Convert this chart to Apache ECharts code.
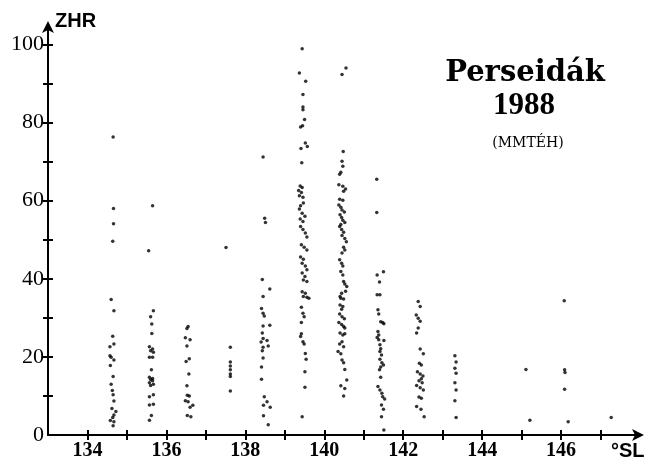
<!DOCTYPE html>
<html>
<head>
<meta charset="utf-8">
<script src="https://cdn.jsdelivr.net/npm/echarts@6/dist/echarts.min.js"></script>
<style>
html,body{margin:0;padding:0;background:#fff;}
#chart{width:657px;height:464px;}
</style>
</head>
<body>
<div id="chart"></div>
<script>
// ---- data: solar longitude (°SL) vs ZHR, grouped by observing night ----
const night1346 = [[134.65,76.3],[134.66,58.0],[134.66,54.1],[134.64,49.6],[134.60,34.7],[134.67,31.8],[134.64,25.3],[134.67,23.3],[134.57,22.6],[134.57,20.3],[134.60,19.9],[134.67,19.2],[134.58,17.8],[134.65,15.0],[134.60,13.0],[134.63,11.4],[134.65,10.3],[134.67,8.7],[134.62,6.8],[134.72,6.0],[134.67,5.1],[134.64,4.5],[134.58,3.7],[134.67,3.4],[134.65,2.4]];
const night1356 = [[135.65,58.7],[135.55,47.2],[135.67,31.8],[135.60,30.3],[135.63,28.4],[135.63,26.0],[135.57,22.6],[135.65,22.0],[135.60,21.6],[135.67,21.2],[135.57,19.9],[135.65,19.9],[135.62,16.7],[135.57,14.8],[135.65,14.5],[135.60,14.2],[135.65,13.9],[135.57,13.4],[135.67,13.0],[135.60,12.7],[135.57,9.8],[135.67,10.3],[135.67,7.9],[135.57,7.7],[135.62,5.0],[135.57,3.8]];
const night1365 = [[136.55,27.8],[136.52,27.3],[136.48,24.9],[136.60,24.4],[136.52,22.8],[136.58,19.5],[136.50,18.8],[136.57,15.6],[136.52,12.6],[136.53,10.2],[136.58,10.0],[136.48,8.8],[136.55,8.5],[136.67,7.6],[136.60,7.1],[136.53,5.0],[136.62,4.7]];
const night1376 = [[137.51,48.0],[137.62,22.5],[137.62,18.7],[137.62,17.7],[137.62,16.7],[137.62,15.6],[137.62,15.0],[137.62,11.3]];
const night1385 = [[138.45,71.2],[138.49,55.5],[138.51,54.4],[138.43,39.8],[138.62,37.4],[138.45,35.5],[138.41,32.4],[138.45,31.2],[138.48,30.5],[138.62,28.1],[138.45,27.9],[138.43,26.1],[138.45,24.7],[138.55,24.2],[138.40,23.8],[138.58,22.8],[138.45,22.5],[138.43,21.6],[138.45,19.7],[138.41,17.4],[138.41,14.3],[138.48,9.8],[138.55,8.5],[138.46,7.6],[138.63,7.1],[138.46,4.9],[138.58,2.6]];
const night1394 = [[139.44,98.9],[139.37,92.7],[139.53,90.6],[139.46,87.2],[139.46,84.0],[139.46,83.3],[139.50,80.8],[139.45,79.2],[139.40,78.9],[139.52,74.8],[139.41,73.4],[139.57,73.9],[139.43,69.7],[139.39,63.8],[139.44,63.4],[139.35,62.6],[139.42,62.1],[139.37,61.3],[139.46,60.9],[139.47,59.4],[139.40,58.7],[139.37,57.9],[139.44,56.8],[139.51,56.0],[139.39,55.3],[139.46,54.7],[139.40,53.4],[139.46,52.6],[139.52,51.7],[139.56,50.7],[139.42,48.7],[139.49,48.1],[139.56,47.4],[139.40,45.6],[139.47,45.0],[139.44,44.0],[139.52,43.3],[139.56,42.3],[139.44,41.5],[139.51,40.6],[139.47,39.7],[139.56,39.3],[139.44,36.7],[139.52,36.3],[139.47,35.5],[139.56,35.3],[139.61,35.0],[139.42,32.7],[139.46,31.2],[139.49,30.3],[139.42,28.8],[139.42,25.9],[139.40,25.2],[139.46,23.9],[139.49,23.3],[139.52,20.9],[139.54,19.4],[139.51,16.2],[139.51,12.2],[139.44,4.7]];
const night1404 = [[140.55,94.0],[140.45,92.3],[140.48,72.6],[140.45,70.1],[140.47,68.8],[140.42,67.3],[140.39,66.8],[140.37,64.1],[140.47,63.7],[140.54,63.0],[140.49,62.4],[140.39,60.4],[140.47,60.1],[140.37,58.9],[140.42,58.3],[140.45,57.6],[140.51,57.1],[140.40,56.4],[140.44,55.7],[140.47,55.0],[140.52,54.4],[140.42,53.9],[140.39,53.4],[140.44,52.6],[140.49,51.9],[140.45,51.1],[140.52,50.3],[140.56,49.5],[140.49,48.1],[140.52,47.4],[140.45,46.6],[140.39,44.9],[140.44,44.0],[140.47,43.3],[140.42,41.9],[140.47,41.0],[140.49,39.3],[140.52,38.7],[140.57,38.0],[140.54,36.8],[140.44,36.3],[140.40,35.5],[140.42,35.0],[140.49,34.8],[140.40,33.3],[140.47,32.9],[140.44,32.2],[140.39,31.0],[140.45,30.3],[140.51,29.8],[140.37,28.8],[140.44,28.3],[140.49,27.8],[140.52,27.4],[140.40,26.1],[140.47,25.6],[140.52,25.9],[140.45,23.9],[140.39,23.3],[140.49,22.6],[140.35,21.4],[140.42,20.8],[140.45,19.2],[140.49,18.5],[140.52,16.8],[140.57,14.1],[140.42,12.6],[140.52,11.9],[140.49,10.0]];
const night1413 = [[141.33,65.5],[141.33,57.0],[141.50,41.8],[141.34,41.0],[141.40,39.2],[141.34,35.9],[141.41,35.9],[141.36,32.1],[141.38,31.0],[141.43,29.0],[141.48,28.8],[141.51,28.5],[141.36,26.5],[141.38,25.6],[141.34,25.0],[141.38,24.4],[141.51,24.2],[141.41,23.1],[141.43,22.1],[141.41,21.4],[141.45,20.5],[141.41,19.4],[141.46,18.5],[141.50,17.9],[141.43,17.4],[141.40,16.7],[141.43,14.8],[141.36,12.4],[141.41,11.5],[141.46,10.7],[141.48,9.8],[141.53,9.2],[141.45,7.7],[141.50,6.6],[141.45,4.7],[141.51,1.3]];
const night1424 = [[142.38,34.2],[142.43,32.9],[142.33,30.7],[142.38,29.9],[142.43,29.1],[142.38,27.4],[142.34,26.1],[142.43,22.0],[142.51,20.8],[142.41,18.4],[142.46,17.9],[142.36,16.2],[142.43,15.6],[142.50,15.1],[142.46,14.4],[142.40,13.9],[142.48,13.4],[142.34,12.7],[142.43,12.1],[142.51,11.5],[142.40,9.7],[142.46,9.4],[142.34,7.3],[142.45,6.6],[142.53,4.7]];
const night1433 = [[143.31,20.3],[143.34,18.7],[143.31,17.1],[143.34,15.8],[143.31,13.4],[143.34,11.5],[143.31,8.8],[143.34,4.5]];
const nightsLate = [[145.11,16.8],[145.21,3.8],[146.08,34.4],[146.09,16.7],[146.10,16.0],[146.09,11.7],[146.18,3.4],[147.27,4.5]];

const xTicks = [134,135,136,137,138,139,140,141,142,143,144,145,146,147];
const xLabels = [134,136,138,140,142,144,146];
const yTicks = [10,20,30,40,50,60,70,80,90,100];
const yLabels = [0,20,40,60,80,100];

const allPoints = [].concat(night1346, night1356, night1365, night1376, night1385,
  night1394, night1404, night1413, night1424, night1433, nightsLate);

const chart = echarts.init(document.getElementById('chart'), null, {renderer:'canvas'});
const ink = '#000';
const grid = {left:48, right:17, top:25, bottom:29};

chart.setOption({
  animation:false,
  backgroundColor:'#fff',
  grid: grid,
  xAxis: [{
    type:'value', min:133, max:148,
    axisLine:{show:true, lineStyle:{color:ink, width:2}, symbol:['none','arrow'], symbolSize:[9,12], symbolOffset:[0,4]},
    axisTick:{show:true, inside:false, length:5, lineStyle:{color:ink, width:2}, customValues:xTicks},
    axisLabel:{show:true, customValues:xLabels, margin:6, color:ink, fontFamily:'Liberation Serif', fontWeight:'bold', fontSize:20},
    splitLine:{show:false}
  },{
    type:'value', min:133, max:148, position:'bottom',
    axisLine:{show:false},
    axisTick:{show:true, inside:true, length:5, lineStyle:{color:ink, width:2}, customValues:xTicks},
    axisLabel:{show:false}, splitLine:{show:false}
  }],
  yAxis: [{
    type:'value', min:0, max:105,
    axisLine:{show:true, lineStyle:{color:ink, width:2}, symbol:['none','arrow'], symbolSize:[9,12], symbolOffset:[0,4]},
    axisTick:{show:true, inside:false, length:5, lineStyle:{color:ink, width:2}, customValues:yTicks},
    axisLabel:{show:true, customValues:yLabels, margin:4, color:ink, fontFamily:'Liberation Serif', fontSize:22},
    splitLine:{show:false}
  },{
    type:'value', min:0, max:105, position:'left',
    axisLine:{show:false},
    axisTick:{show:true, inside:true, length:5, lineStyle:{color:ink, width:2}, customValues:yTicks},
    axisLabel:{show:false}, splitLine:{show:false}
  }],
  series: [{
    type:'scatter', xAxisIndex:0, yAxisIndex:0,
    data: allPoints,
    symbol:'circle', symbolSize:3.5,
    itemStyle:{color:ink}
  }],
  graphic: [
    {type:'text', x:55, y:21, style:{text:'ZHR', fill:ink, font:'bold 20px "Liberation Sans"', align:'left', textAlign:'left', verticalAlign:'middle', textVerticalAlign:'middle'}},
    {type:'text', x:611, y:451, style:{text:'°SL', fill:ink, font:'bold 20px "Liberation Sans"', align:'left', textAlign:'left', verticalAlign:'middle', textVerticalAlign:'middle'}},
    {type:'text', x:525, y:73, style:{text:'Perseidák', fill:ink, font:'bold 29px "DejaVu Serif"', align:'center', textAlign:'center', verticalAlign:'middle', textVerticalAlign:'middle'}},
    {type:'text', x:524, y:106, style:{text:'1988', fill:ink, font:'bold 31px "Liberation Serif"', align:'center', textAlign:'center', verticalAlign:'middle', textVerticalAlign:'middle'}},
    {type:'text', x:528, y:143, style:{text:'(MMTÉH)', fill:ink, font:'14px "DejaVu Serif"', align:'center', textAlign:'center', verticalAlign:'middle', textVerticalAlign:'middle'}}
  ]
});
</script>
</body>
</html>
